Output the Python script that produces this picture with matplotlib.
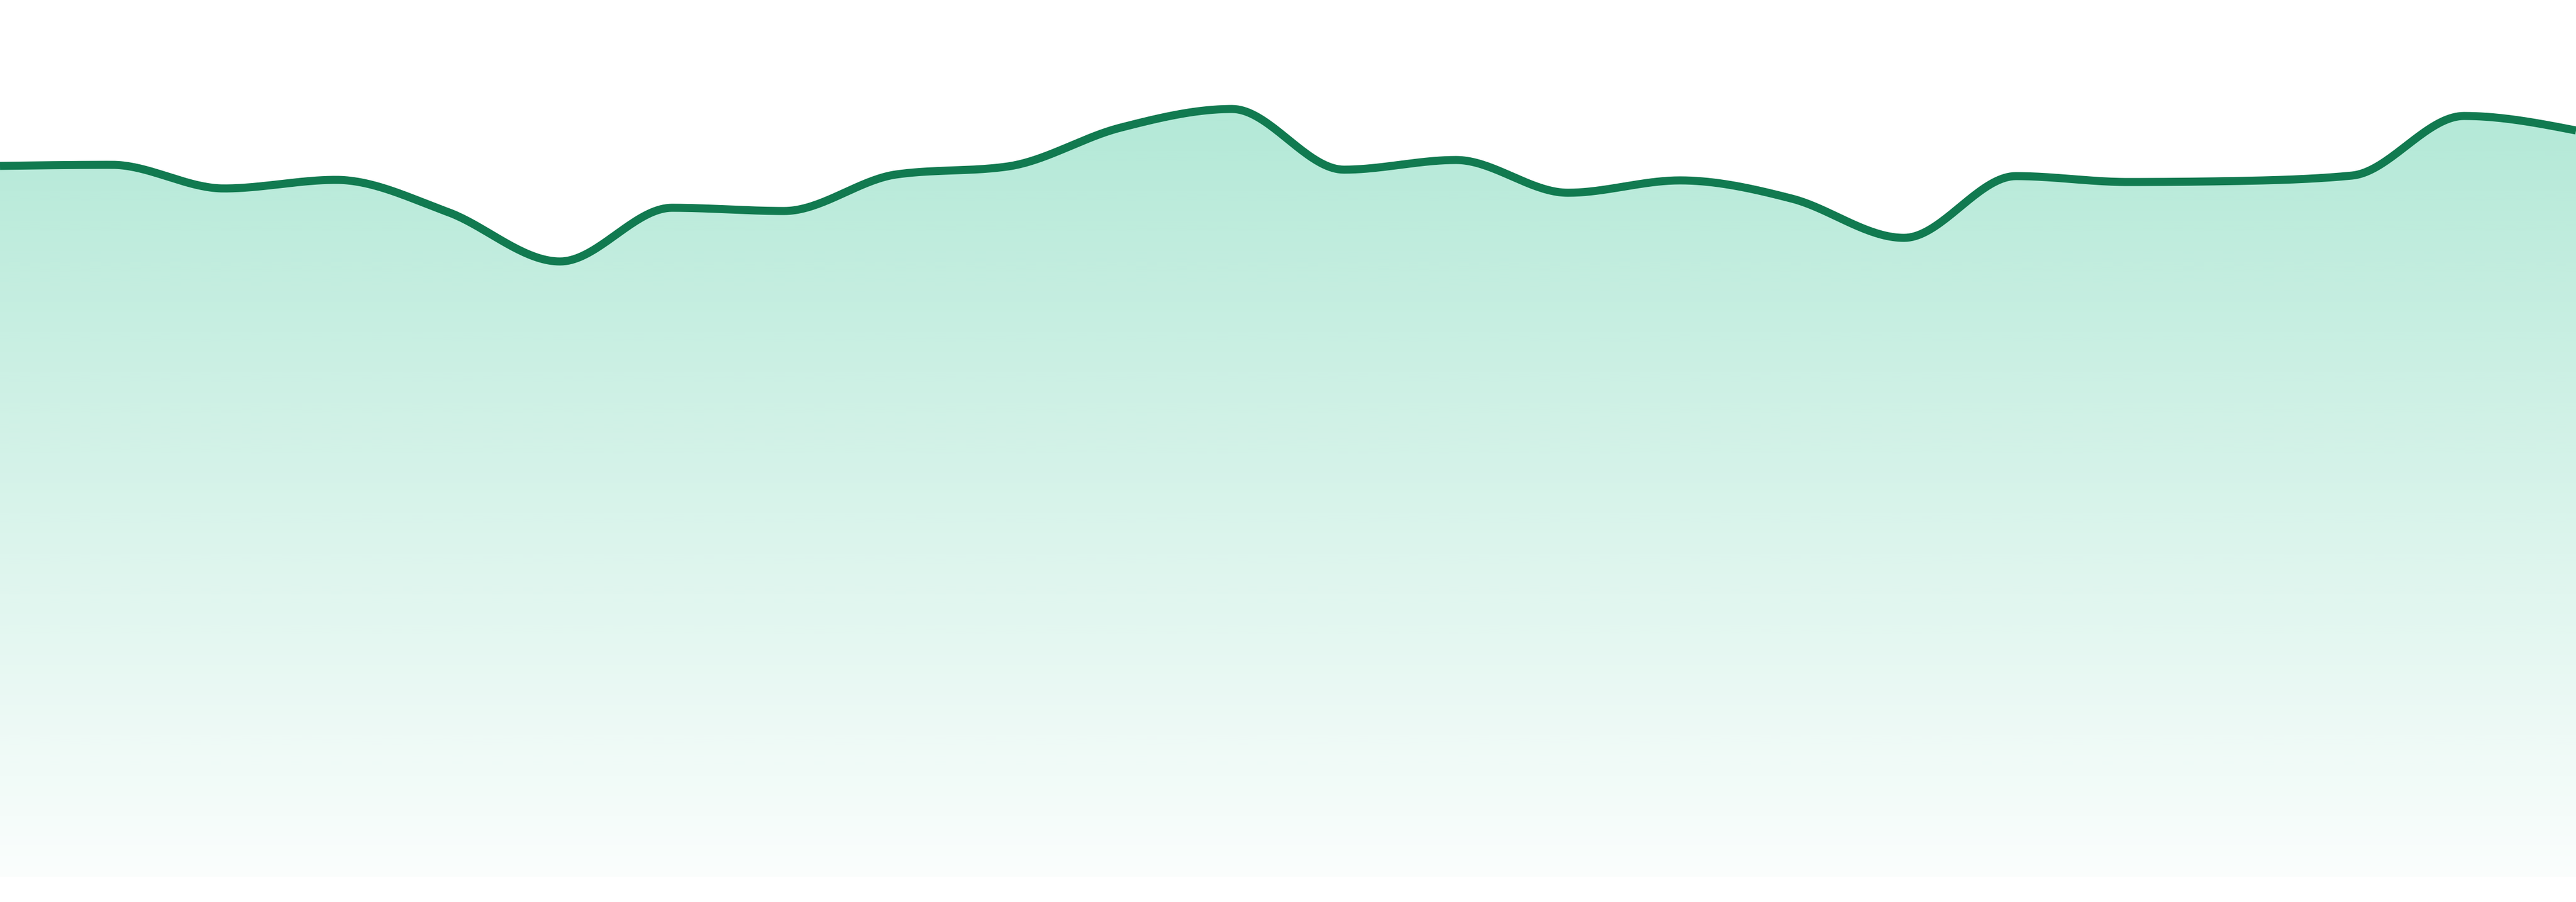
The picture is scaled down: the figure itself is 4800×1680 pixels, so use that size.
import numpy as np
import matplotlib
matplotlib.use("Agg")
import matplotlib.pyplot as plt
from matplotlib.patches import Polygon

# values, one per evenly spaced step
steps = list(range(24))
values = [132.4, 132.6, 128.2, 129.8, 123.8, 114.6, 124.6, 124.0,
          130.8, 132.3, 139.5, 143.0, 131.7, 133.5, 127.4, 129.7,
          126.3, 119.0, 130.5, 129.4, 129.6, 130.6, 141.7, 139.0]

line_color = "#117a50"
fill_rgb = (16 / 255, 185 / 255, 129 / 255)


def monotone_x(x, y, n=40):
    # same idea as d3 curveMonotoneX: cubic bezier per segment
    x = np.asarray(x, float)
    y = np.asarray(y, float)
    h = np.diff(x)
    s = np.diff(y) / h
    t = np.zeros(len(x))
    for i in range(1, len(x) - 1):
        s0, s1 = s[i - 1], s[i]
        p = (s0 * h[i] + s1 * h[i - 1]) / (h[i - 1] + h[i])
        t[i] = (np.sign(s0) + np.sign(s1)) * min(abs(s0), abs(s1), 0.5 * abs(p))
    t[0] = (3 * s[0] - t[1]) / 2
    t[-1] = (3 * s[-1] - t[-2]) / 2
    xs, ys = [], []
    u = np.linspace(0, 1, n, endpoint=False)
    for i in range(len(x) - 1):
        dx = h[i] / 3
        p0 = (x[i], y[i])
        p1 = (x[i] + dx, y[i] + dx * t[i])
        p2 = (x[i + 1] - dx, y[i + 1] - dx * t[i + 1])
        p3 = (x[i + 1], y[i + 1])
        b0 = (1 - u) ** 3
        b1 = 3 * (1 - u) ** 2 * u
        b2 = 3 * (1 - u) * u ** 2
        b3 = u ** 3
        xs.append(b0 * p0[0] + b1 * p1[0] + b2 * p2[0] + b3 * p3[0])
        ys.append(b0 * p0[1] + b1 * p1[1] + b2 * p2[1] + b3 * p3[1])
    xs.append([x[-1]])
    ys.append([y[-1]])
    return np.concatenate(xs), np.concatenate(ys)


fig = plt.figure(figsize=(16, 5.6), dpi=300)
ax = fig.add_axes([0, 0, 1, 1])
ax.set_xlim(steps[0], steps[-1])
ymin, ymax = -4.7, 163.3
ax.set_ylim(ymin, ymax)
ax.axis("off")

cx, cy = monotone_x(steps, values)

# gradient fill under the curve
verts = np.column_stack([np.r_[cx, cx[-1], cx[0]], np.r_[cy, 0, 0]])
clip = Polygon(verts, closed=True, facecolor="none", edgecolor="none")
ax.add_patch(clip)
grad = np.zeros((256, 1, 4))
grad[:, 0, 0] = fill_rgb[0]
grad[:, 0, 1] = fill_rgb[1]
grad[:, 0, 2] = fill_rgb[2]
grad[:, 0, 3] = np.linspace(0.36, 0.02, 256)
img = ax.imshow(grad, extent=[steps[0], steps[-1], 0, ymax], origin="upper",
                aspect="auto", interpolation="bilinear", zorder=1)
img.set_clip_path(clip)

ax.plot(cx, cy, color=line_color, lw=3.6, solid_capstyle="butt", zorder=2)

fig.savefig("out.png", dpi=300)
